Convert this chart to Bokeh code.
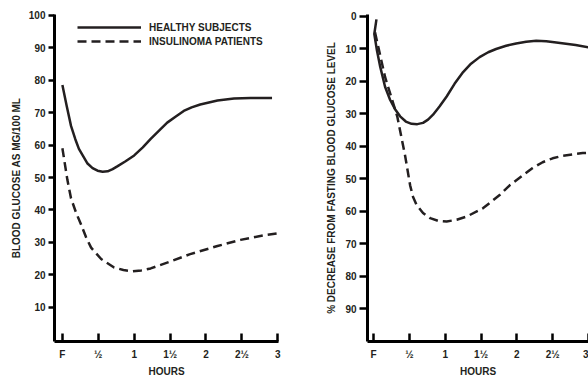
from bokeh.plotting import figure
from bokeh.layouts import row
from bokeh.models import Range1d, FixedTicker, Legend, LegendItem
from bokeh.embed import file_html
from bokeh.resources import INLINE

# ---- data ----
tick_hours = [0, 0.5, 1, 1.5, 2, 2.5, 3]
tick_labels = ["F", "½", "1", "1½", "2", "2½", "3"]
left_yticks = [10, 20, 30, 40, 50, 60, 70, 80, 90, 100]
right_yticks = [0, 10, 20, 30, 40, 50, 60, 70, 80, 90]

# Left panel: blood glucose (mg/100 ml)
healthy_hours = [0, 0.06, 0.12, 0.18, 0.23, 0.35, 0.42, 0.49, 0.56, 0.63, 0.70, 0.77, 0.88, 1.0, 1.12, 1.23, 1.35, 1.46, 1.58, 1.69, 1.80, 1.92, 2.16, 2.39, 2.62, 2.92]
healthy_glucose = [78.5, 72.0, 65.9, 61.8, 58.8, 54.3, 52.9, 52.1, 51.8, 51.9, 52.6, 53.5, 55.0, 56.8, 59.3, 61.9, 64.5, 66.9, 68.8, 70.5, 71.6, 72.5, 73.7, 74.3, 74.5, 74.5]

insulinoma_hours = [0, 0.07, 0.12, 0.19, 0.26, 0.33, 0.40, 0.54, 0.72, 0.85, 0.98, 1.10, 1.23, 1.51, 1.78, 2.16, 2.48, 2.80, 2.99]
insulinoma_glucose = [59, 49.2, 43.6, 39.2, 35.5, 31.6, 28.4, 24.9, 22.3, 21.5, 21.1, 21.4, 22.0, 24.2, 26.4, 28.9, 30.8, 32.2, 32.8]

# Right panel: % decrease from fasting level
healthy_pct_hours = [0.04, 0.01, 0.047, 0.093, 0.16, 0.23, 0.30, 0.37, 0.45, 0.53, 0.61, 0.69, 0.76, 0.83, 0.92, 1.02, 1.13, 1.25, 1.36, 1.48, 1.60, 1.71, 1.85, 1.99, 2.13, 2.27, 2.41, 2.55, 2.82, 3.0]
healthy_pct = [1.0, 5.5, 10.6, 15.6, 21.7, 25.7, 28.6, 30.8, 32.4, 33.1, 33.2, 32.8, 31.8, 30.3, 27.8, 24.7, 20.8, 17.2, 14.6, 12.6, 11.1, 10.1, 9.1, 8.4, 7.9, 7.6, 7.7, 8.1, 8.9, 9.6]

insulinoma_pct_hours = [0.02, 0.16, 0.33, 0.44, 0.51, 0.55, 0.60, 0.69, 0.79, 0.90, 1.02, 1.16, 1.30, 1.53, 1.76, 1.90, 2.08, 2.22, 2.36, 2.50, 2.64, 2.92, 3.0]
insulinoma_pct = [5, 18.7, 30.8, 42.9, 52, 55.5, 58, 60.5, 62.1, 62.9, 63.1, 62.6, 61.6, 59, 55, 52, 49, 46.7, 44.9, 43.7, 42.9, 42.1, 42]

INK = "#231f20"
FONT = "Liberation Sans"
DASH = "9 5"


def style(p, yticks, ylabel, ytick_out, ylabel_standoff):
    p.xaxis.ticker = FixedTicker(ticks=tick_hours)
    p.xaxis.major_label_overrides = {t: l for t, l in zip(tick_hours, tick_labels)}
    p.yaxis.ticker = FixedTicker(ticks=yticks)
    p.xaxis.axis_label = "HOURS"
    p.yaxis.axis_label = ylabel
    p.axis.axis_line_width = 3
    p.axis.major_tick_line_width = 2.5
    p.axis.minor_tick_line_color = None
    p.axis.major_label_text_font = FONT
    p.axis.major_label_text_font_style = "bold"
    p.axis.major_label_text_font_size = "10px"
    p.axis.major_label_text_color = INK
    p.axis.axis_label_text_font = FONT
    p.axis.axis_label_text_font_style = "bold"
    p.axis.axis_label_text_font_size = "10px"
    p.axis.axis_label_text_color = INK
    p.xaxis.major_tick_in = 8
    p.xaxis.major_tick_out = 0
    p.xaxis.major_label_standoff = 7
    p.xaxis.axis_label_standoff = 3
    p.yaxis.major_tick_in = 0
    p.yaxis.major_tick_out = ytick_out
    p.yaxis.major_label_standoff = 3
    p.yaxis.axis_label_standoff = ylabel_standoff
    p.grid.visible = False
    p.outline_line_color = None


p1 = figure(width=308, height=379, x_range=Range1d(-0.11, 3.01), y_range=Range1d(-0.5, 100.2),
            output_backend="svg", toolbar_location=None,
            min_border_left=54, min_border_right=30, min_border_top=14, min_border_bottom=34)
style(p1, left_yticks, "BLOOD GLUCOSE AS MG/100 ML", 6, 4)
r1 = p1.line(healthy_hours, healthy_glucose, line_width=2.5, line_color=INK, line_join="round")
r2 = p1.line(insulinoma_hours, insulinoma_glucose, line_width=2.5, line_color=INK, line_dash=DASH)

legend = Legend(items=[LegendItem(label="HEALTHY SUBJECTS", renderers=[r1]),
                       LegendItem(label="INSULINOMA PATIENTS", renderers=[r2])],
                location=(23, 293), glyph_width=64, glyph_height=14, label_height=14,
                label_standoff=8, padding=0, margin=0, spacing=0,
                border_line_color=None, background_fill_alpha=0,
                label_text_font=FONT, label_text_font_style="bold",
                label_text_font_size="10px", label_text_color=INK)
p1.add_layout(legend)

p2 = figure(width=280, height=379, x_range=Range1d(-0.085, 3.0), y_range=Range1d(100, -0.5),
            output_backend="svg", toolbar_location=None,
            min_border_left=59, min_border_right=0, min_border_top=14, min_border_bottom=34)
style(p2, right_yticks, "% DECREASE FROM FASTING BLOOD GLUCOSE LEVEL", 8, 5)
p2.line(healthy_pct_hours, healthy_pct, line_width=2.5, line_color=INK, line_join="round")
p2.line(insulinoma_pct_hours, insulinoma_pct, line_width=2.5, line_color=INK, line_dash=DASH)

layout = row(p1, p2)
open("out.html", "w").write(file_html(layout, INLINE))
